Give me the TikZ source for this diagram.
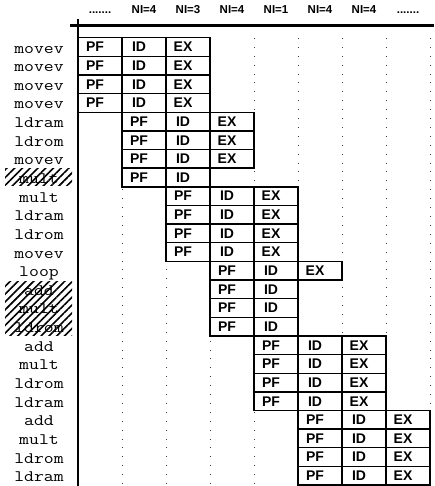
\documentclass[tikz,border=0pt]{standalone}
\usepackage{fontspec}
\setsansfont{Liberation Sans}
\newfontfamily\opfont[FakeStretch=1.2]{Latin Modern Mono}
\usetikzlibrary{positioning,patterns.meta}

\begin{document}
\begin{tikzpicture}[x=1pt, y=-1pt,
  stagebox/.style={draw=black, fill=white, line width=1.4pt, minimum width=44pt, minimum height=18.64pt, inner sep=0pt, font=\sffamily\bfseries\fontsize{14}{14}\selectfont},
  oplabel/.style={font=\opfont\fontsize{16}{16}\selectfont, inner sep=0pt, anchor=base},
  niheader/.style={font=\sffamily\bfseries\fontsize{11.5}{11.5}\selectfont, inner sep=0pt, anchor=base},
  guide/.style={black!75, line width=0.9pt, dash pattern=on 0.9pt off 8pt},
  squash/.style={pattern={Lines[angle=45, distance=5.5pt, line width=1.6pt]}},
]
\useasboundingbox (0,0) rectangle (434,486);
% dotted column guides
\foreach \c in {1,...,8} {
  \pgfmathsetmacro{\x}{78 + 44*\c}
  \draw[guide] (\x,38) -- (\x,486);
}
% issue counts per cycle
\foreach \i/\t in {0/{.......},1/{NI=4},2/{NI=3},3/{NI=4},4/{NI=1},5/{NI=4},6/{NI=4},7/{.......}} {
  \pgfmathsetmacro{\x}{100 + 44*\i}
  \node[niheader] (hd\i) at (\x,13.5) {\t};
}

% pipeline rows: index/op/first cycle/stages
\foreach \r/\op/\c/\n in {
  0/movev/0/3, 1/movev/0/3, 2/movev/0/3, 3/movev/0/3,
  4/ldram/1/3, 5/ldrom/1/3, 6/movev/1/3, 7/mult/1/2,
  8/mult/2/3, 9/ldram/2/3, 10/ldrom/2/3, 11/movev/2/3,
  12/loop/3/3, 13/add/3/2, 14/mult/3/2, 15/ldrom/3/2,
  16/add/4/3, 17/mult/4/3, 18/ldrom/4/3, 19/ldram/4/3,
  20/add/5/3, 21/mult/5/3, 22/ldrom/5/3, 23/ldram/5/3
} {
  \pgfmathsetmacro{\y}{37.7 + (\r+0.5)*18.64}
  \node[oplabel] (op\r) at (39,\y+6) {\op};
  \foreach \k/\st in {0/PF,1/ID,2/EX} {
    \ifnum\k<\n
      \pgfmathsetmacro{\x}{100 + 44*(\c+\k)}
      \node[stagebox] (s\r-\k) at (\x,\y) {\st\hspace*{10pt}};
    \fi
  }
}
% squashed instructions
\fill[squash] (5,169) rectangle (72,185);
\fill[squash] (5,281) rectangle (72,335);

% axes
\draw[line width=2.2pt] (70,25.5) -- (434,25.5);
\draw[line width=1.2pt] (78,19) -- (78,486);
\end{tikzpicture}
\end{document}
